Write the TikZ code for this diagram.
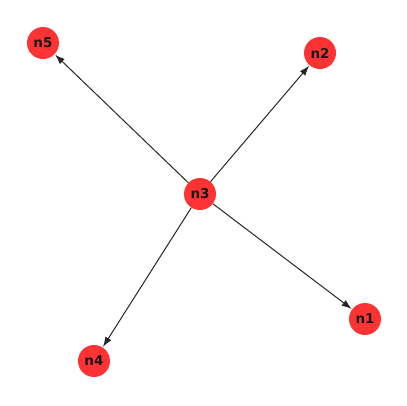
\documentclass[tikz,border=0pt]{standalone}
\usepackage{fontspec}
\setmainfont{DejaVu Sans}
\usetikzlibrary{arrows.meta}
\definecolor{nodered}{RGB}{255,51,51}
\tikzset{
  vertex/.style = {circle, fill=nodered, draw=none, minimum size=32pt, inner sep=0pt, font=\fontsize{13.5}{13.5}\selectfont\bfseries, text=black!90},
  arrow/.style = {draw=black!85, line width=1pt, -{Latex[length=10pt, width=7pt]}, shorten >=0.5pt}
}
\begin{document}
\begin{tikzpicture}[x=1pt, y=-1pt]
  \useasboundingbox (0,0) rectangle (407,405);
  \node[vertex] (n3) at (200,194) {n3};
  \node[vertex] (n5) at (43,43) {n5};
  \node[vertex] (n2) at (320,53) {n2};
  \node[vertex] (n1) at (365,319) {n1};
  \node[vertex] (n4) at (94,361) {n4};
  \draw[arrow] (n3) -- (n5);
  \draw[arrow] (n3) -- (n2);
  \draw[arrow] (n3) -- (n1);
  \draw[arrow] (n3) -- (n4);
\end{tikzpicture}
\end{document}
